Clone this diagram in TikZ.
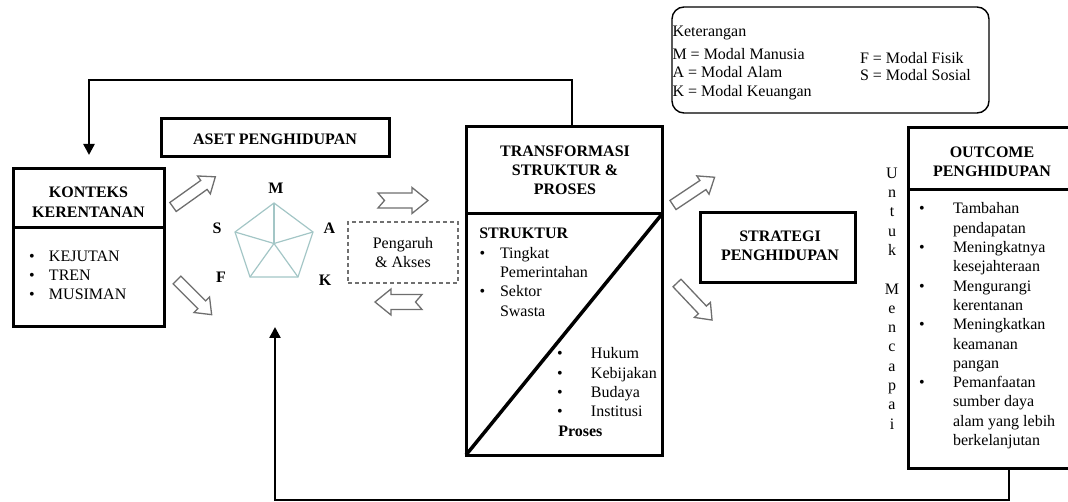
\documentclass[tikz,border=0pt]{standalone}
\usepackage{fontspec}
\setmainfont{Liberation Serif}
\usetikzlibrary{arrows.meta,calc}
\definecolor{pentcol}{HTML}{A3C6C6}
\definecolor{arrgray}{HTML}{6E6E6E}
\definecolor{dashgray}{HTML}{707070}
\newcommand{\blkarrow}[3]{\begin{scope}[shift={#1}, rotate=#2]
\draw[blockarr] (0,5.5) -- ({#3-14},5.5) -- ({#3-14},11) -- (#3,0) -- ({#3-14},-11) -- ({#3-14},-5.5) -- (0,-5.5) -- cycle;
\end{scope}}
\newcommand{\notcharrow}[3]{\begin{scope}[shift={#1}, rotate=#2]
\draw[blockarr] (0,7.5) -- ({#3-16},7.5) -- ({#3-16},13) -- (#3,0) -- ({#3-16},-13) -- ({#3-16},-7.5) -- (0,-7.5) -- (6.5,0) -- cycle;
\end{scope}}
\begin{document}
\begin{tikzpicture}[x=1pt,y=-1pt,
 every node/.style={font=\fontsize{16}{19.3}\selectfont, inner sep=0pt, outer sep=0pt},
 box/.style={draw=black, line width=3pt, rectangle},
 fb/.style={draw=black, line width=2.4pt},
 blockarr/.style={draw=arrgray, line width=1.3pt, fill=white, line join=miter},
 bt/.style={font=\fontsize{16}{19.3}\selectfont\bfseries},
 pent/.style={draw=pentcol, line width=1.2pt},
 divline/.style={draw=black, line width=3pt},
]
\useasboundingbox (0,0) rectangle (1068,502);

% boxes
\node[box, minimum width=151pt, minimum height=158pt] (konteks) at (88.5,248) {};
\node[box, minimum width=228pt, minimum height=38pt] (aset) at (275,138) {};
\node[box, minimum width=196pt, minimum height=328pt] (trans) at (564,291) {};
\node[box, minimum width=155pt, minimum height=70pt] (strat) at (777.5,248) {};
\node[box, minimum width=167pt, minimum height=340pt] (outcome) at (991.5,298) {};
\node[draw=dashgray, line width=1.6pt, dash pattern=on 4pt off 3pt, minimum width=110pt, minimum height=61pt] (pengaruh) at (403,252.5) {};
\node[draw=black, line width=1.4pt, rounded corners=12pt, minimum width=317pt, minimum height=106pt] (legend) at (830.5,60) {};

% dividers
\coordinate (dK) at (0,228);
\coordinate (dT) at (0,214);
\coordinate (dO) at (0,190);
\draw[divline] (konteks.west |- dK) -- (konteks.east |- dK);
\draw[divline] (trans.west |- dT) -- (trans.east |- dT);
\draw[divline] (outcome.west |- dO) -- (outcome.east |- dO);
\draw[draw=black, line width=3.5pt] (trans.south west) -- (trans.east |- dT);

% texts
\node[bt, anchor=base] (konteksT) at (88.5,198) {\begin{tabular}[t]{@{}c@{}}KONTEKS\\KERENTANAN\end{tabular}};
\node[anchor=base west] (konteksL) at (29.2,261.4) {\begin{tabular}[t]{@{}p{19.8pt}@{}l@{}}\textbullet & KEJUTAN\\ \textbullet & TREN\\ \textbullet & MUSIMAN\end{tabular}};
\node[bt, anchor=base] (asetT) at (275,145) {ASET PENGHIDUPAN};
\node[bt, anchor=base] (transT) at (565,156.4) {\begin{tabular}[t]{@{}c@{}}TRANSFORMASI\\STRUKTUR \&\\PROSES\end{tabular}};
\node[bt, anchor=base west] (struk) at (479.3,239) {STRUKTUR};
\node[anchor=base west] (strukL) at (479.5,258.4) {\begin{tabular}[t]{@{}p{20.5pt}@{}l@{}}\textbullet & Tingkat\\ & Pemerintahan\\ \textbullet & Sektor\\ & Swasta\end{tabular}};
\node[anchor=base west] (prosL) at (557.2,359) {\begin{tabular}[t]{@{}p{33.8pt}@{}l@{}}\textbullet & Hukum\\ \textbullet & Kebijakan\\ \textbullet & Budaya\\ \textbullet & Institusi\end{tabular}};
\node[bt, anchor=base west] (pros) at (558.3,436.5) {Proses};
\node[bt, anchor=base] (stratT) at (780,241.7) {\begin{tabular}[t]{@{}c@{}}STRATEGI\\PENGHIDUPAN\end{tabular}};
\node[bt, anchor=base] (outT) at (992,157.4) {\begin{tabular}[t]{@{}c@{}}OUTCOME\\PENGHIDUPAN\end{tabular}};
\node[anchor=base west] (outL) at (919.2,214) {\begin{tabular}[t]{@{}p{33.8pt}@{}l@{}}\textbullet & Tambahan\\ & pendapatan\\ \textbullet & Meningkatnya\\ & kesejahteraan\\ \textbullet & Mengurangi\\ & kerentanan\\ \textbullet & Meningkatkan\\ & keamanan\\ & pangan\\ \textbullet & Pemanfaatan\\ & sumber daya\\ & alam yang lebih\\ & berkelanjutan\end{tabular}};
\node[anchor=base] (untuk) at (892,178.3) {\begin{tabular}[t]{@{}c@{}}U\\n\\t\\u\\k\\ ~\\M\\e\\n\\c\\a\\p\\a\\i\end{tabular}};
\node[anchor=base] (pengT) at (403,248.4) {\begin{tabular}[t]{@{}c@{}}Pengaruh\\\& Akses\end{tabular}};

% legend
\node[anchor=base west] (ket) at (672.5,36.8) {Keterangan};
\node[anchor=base west, font=\fontsize{16}{18.7}\selectfont] (legL) at (672.5,59.3) {\begin{tabular}[t]{@{}l@{}}M = Modal Manusia\\A = Modal Alam\\K = Modal Keuangan\end{tabular}};
\node[anchor=base west, font=\fontsize{16}{17}\selectfont] (legR) at (860,63.5) {\begin{tabular}[t]{@{}l@{}}F = Modal Fisik\\S = Modal Sosial\end{tabular}};

% pentagon
\coordinate (pc) at (274,243.5);
\coordinate (pM) at (274,203);
\coordinate (pA) at (313,232);
\coordinate (pK) at (298,277);
\coordinate (pF) at (250,277);
\coordinate (pS) at (235,232);
\draw[pent] (pM) -- (pA) -- (pK) -- (pF) -- (pS) -- cycle;
\foreach \p in {pM,pA,pK,pF,pS} \draw[pent] (pc) -- (\p);
\node[bt, anchor=base] (lM) at (276,194) {M};
\node[bt, anchor=base] (lA) at (329.5,234) {A};
\node[bt, anchor=base] (lS) at (217,233.3) {S};
\node[bt, anchor=base] (lF) at (221,282.7) {F};
\node[bt, anchor=base] (lK) at (325,285.7) {K};

% block arrows
\blkarrow{(173,207)}{35.5}{52}
\blkarrow{(177,280)}{-45}{49}
\notcharrow{(378,200.5)}{0}{50}
\notcharrow{(422,302)}{180}{47}
\blkarrow{(673,205)}{33.7}{50}
\blkarrow{(677,283)}{-46.6}{51}

% feedback connectors
\coordinate (tfR) at (572,80);
\coordinate (tfL) at (89,80);
\draw[fb, -{Triangle[width=11pt,length=11pt]}, shorten >=14pt] (tfR |- trans.north) -- (tfR) -- (tfL) -- (tfL |- konteks.north);
\coordinate (bfR) at (1009,500);
\coordinate (bfL) at (275,500);
\coordinate (bfEnd) at (275,327);
\draw[fb, -{Triangle[width=11pt,length=11pt]}] (bfR |- outcome.south) -- (bfR) -- (bfL) -- (bfEnd);
\end{tikzpicture}
\end{document}
